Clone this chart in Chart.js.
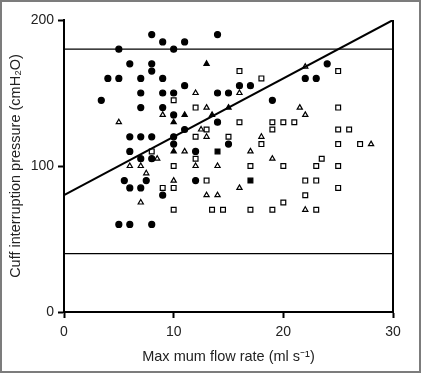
<!DOCTYPE html>
<html lang="en">
<head>
<meta charset="UTF-8">
<title>Cuff interruption pressure</title>
<script src="https://cdn.jsdelivr.net/npm/chart.js"></script>
<style>
  html, body { margin: 0; padding: 0; background: #fff; }
</style>
</head>
<body>
<canvas id="chart" width="421" height="373"></canvas>
<script>
// tick labels
const xTicks = [0, 10, 20, 30];
const yTicks = [0, 100, 200];

// [flow rate, pressure]
const filledCircles = [
  [8,190],[9,185],[14,190],[5,180],[10,180],[11,185],
  [6,170],[8,170],[8,165],[24,170],
  [4,160],[5,160],[7,160],[9,160],[22,160],[23,160],
  [11,155],[16,155],[17,155],
  [7,150],[9,150],[10,150],[14,150],[15,150],
  [3.4,145],[19,145],[7,140],[9,140],
  [10,135],[14,130],[11,125],
  [6,120],[7,120],[8,120],[10,120],[10,115],[15,115],
  [6,110],[12,110],[7,105],[8,105],
  [5.5,90],[7.5,90],[12,90],[6,85],[7,85],[9,80],
  [5,60],[6,60],[8,60]
];
const openTriangles = [
  [5,130],[9,135],[12,150],[16,150],[13,140],[22,168],[21.5,140],[22,135],
  [12.5,125],[13,120],[18,120],[8.5,105],[11,110],[17,110],[19,105],
  [6,100],[7,100],[12,100],[14,100],[7.5,95],[10,90],[16,85],
  [13,80],[14,80],[7,75],[28,115],[22,70]
];
const filledTriangles = [[13,170],[11,135],[10,130],[13.5,135],[15,140],[10,110]];
const openSquares = [
  [16,165],[18,160],[25,165],[10,145],[12,140],[25,140],
  [16,130],[19,130],[20,130],[21,130],[13,125],[19,125],[25,125],[26,125],
  [12,120],[15,120],[18,115],[25,115],[27,115],
  [8,110],[12,105],[23.5,105],[10,100],[17,100],[20,100],[23,100],[25,100],
  [13,90],[22,90],[23,90],[9,85],[10,85],[25,85],[22,80],[20,75],
  [10,70],[13.5,70],[14.5,70],[17,70],[19,70],[23,70]
];
const filledSquares = [[14,110],[17,90]];

// reference lines and fitted line
const upperLimit = 180;
const lowerLimit = 40;
const fitLine = [[0,80],[30,200]];

const toXY = arr => arr.map(p => ({ x: p[0], y: p[1] }));
const hLine = v => [{ x: xTicks[0], y: v }, { x: xTicks[xTicks.length - 1], y: v }];

const tickFont = { family: "'Liberation Sans', Arial, sans-serif", size: 14 };
const titleFont = { family: "'Liberation Sans', Arial, sans-serif", size: 14.5 };

const framePlugin = {
  id: 'frame',
  beforeDraw(chart) {
    const ctx = chart.ctx;
    ctx.save();
    ctx.fillStyle = '#fff';
    ctx.fillRect(0, 0, chart.width, chart.height);
    ctx.restore();
  },
  afterDraw(chart) {
    const ctx = chart.ctx;
    const a = chart.chartArea;
    ctx.save();
    ctx.strokeStyle = '#000';
    ctx.lineWidth = 2;
    ctx.beginPath();
    ctx.moveTo(a.right, a.top);
    ctx.lineTo(a.right, a.bottom + 1);
    ctx.stroke();
    ctx.strokeStyle = '#7c7c7c';
    ctx.strokeRect(1, 1, chart.width - 2, chart.height - 2);
    ctx.restore();
  }
};

const pointSet = (data, style, fill, radius) => ({
  type: 'scatter',
  data: toXY(data),
  pointStyle: style,
  pointRadius: radius,
  pointBackgroundColor: fill,
  pointBorderColor: '#000',
  pointBorderWidth: 1.2
});

const lineSet = (data, width) => ({
  type: 'line',
  data: data,
  borderColor: '#000',
  borderWidth: width,
  pointRadius: 0,
  fill: false,
  tension: 0
});

new Chart(document.getElementById('chart'), {
  type: 'scatter',
  data: {
    datasets: [
      lineSet(hLine(upperLimit), 1.2),
      lineSet(hLine(lowerLimit), 1.2),
      lineSet(toXY(fitLine), 2),
      pointSet(filledCircles, 'circle', '#000', 3),
      pointSet(openTriangles, 'triangle', '#fff', 3),
      pointSet(filledTriangles, 'triangle', '#000', 3),
      pointSet(openSquares, 'rect', '#fff', 3.4),
      pointSet(filledSquares, 'rect', '#000', 3.4)
    ]
  },
  options: {
    responsive: false,
    animation: false,
    devicePixelRatio: 1,
    layout: { padding: { top: 20, right: 28, left: 0, bottom: 0 } },
    plugins: { legend: { display: false }, tooltip: { enabled: false } },
    scales: {
      x: {
        type: 'linear',
        min: xTicks[0],
        max: xTicks[xTicks.length - 1],
        afterBuildTicks: s => { s.ticks = xTicks.map(v => ({ value: v })); },
        afterFit: s => { s.height = 61; },
        grid: { drawOnChartArea: false, drawTicks: true, tickLength: 6, tickWidth: 2, tickColor: '#000' },
        border: { display: true, color: '#000', width: 2 },
        ticks: { color: '#222', font: tickFont, padding: 6, maxRotation: 0 },
        title: { display: true, text: 'Max mum flow rate (ml s\u207B\u00B9)', color: '#222', font: titleFont, padding: { top: 0, bottom: 7 } }
      },
      y: {
        type: 'linear',
        min: yTicks[0],
        max: yTicks[yTicks.length - 1],
        afterBuildTicks: s => { s.ticks = yTicks.map(v => ({ value: v })); },
        afterFit: s => { s.width = 64; },
        grid: { drawOnChartArea: false, drawTicks: true, tickLength: 6, tickWidth: 2, tickColor: '#000' },
        border: { display: true, color: '#000', width: 2 },
        ticks: { color: '#222', font: tickFont, padding: 4 },
        title: { display: true, text: 'Cuff interruption pressure (cmH\u2082O)', color: '#222', font: titleFont, padding: { top: 7, bottom: 0 } }
      }
    }
  },
  plugins: [framePlugin]
});
</script>
</body>
</html>
